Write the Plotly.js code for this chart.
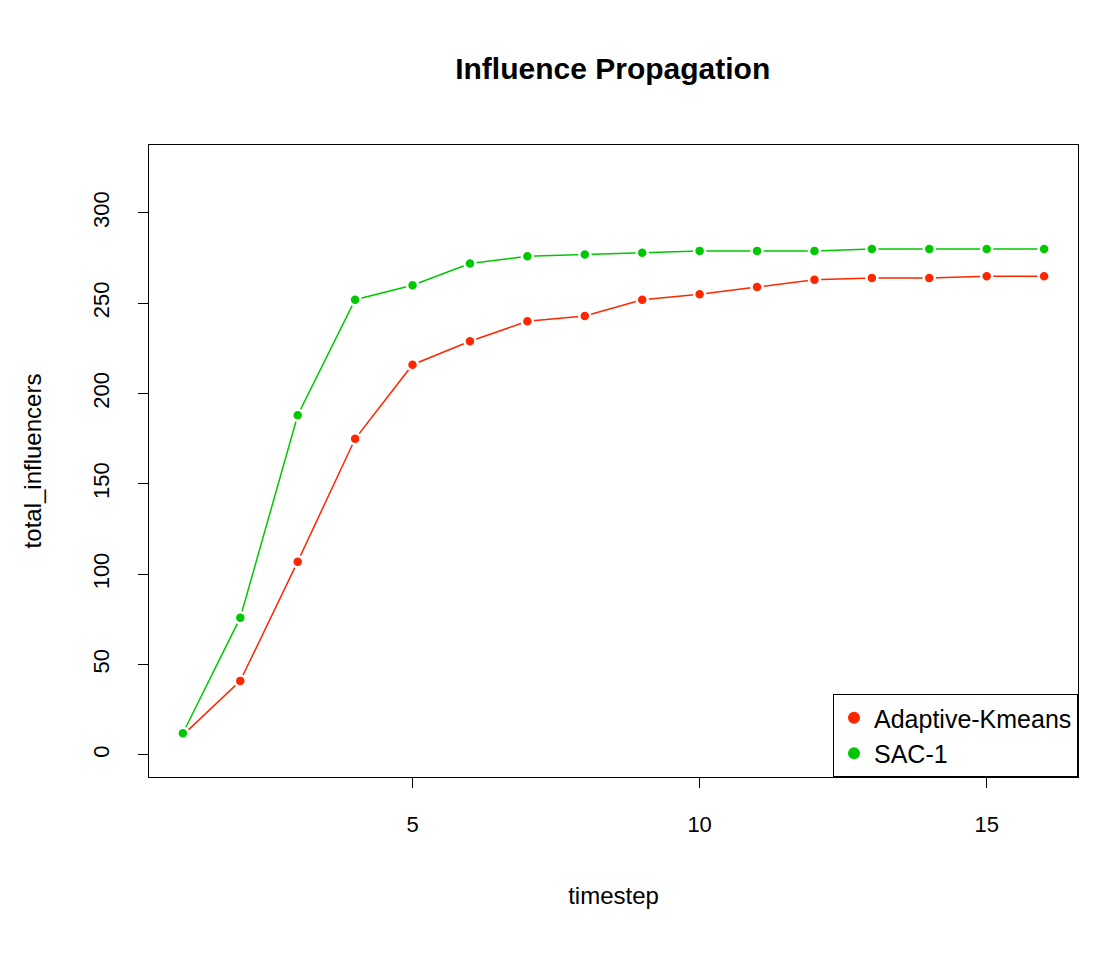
<!DOCTYPE html>
<html><head><script src="https://cdn.plot.ly/plotly-3.0.1.min.js"></script>
<style>body{margin:0}</style></head><body>
<div id="c" style="width:1104px;height:960px"></div>
<script>
const timestep=[1,2,3,4,5,6,7,8,9,10,11,12,13,14,15,16];
const adaptiveKmeans=[11,41,107,175,216,229,240,243,252,255,259,263,264,264,265,265];
const sac1=[12,76,188,252,260,272,276,277,278,279,279,279,280,280,280,280];
const font={family:"Liberation Sans, Arial, sans-serif",color:"#000"};
function tr(name,y,col){return {x:timestep,y:y,name:name,mode:"lines+markers",showlegend:false,
 line:{color:col,width:1.5},marker:{color:col,size:11,line:{color:"white",width:2.5}}};}
function lg(name,col){return {x:[null],y:[null],name:name,mode:"markers",marker:{color:col,size:12}};}
Plotly.newPlot("c",[tr("Adaptive-Kmeans",adaptiveKmeans,"#ff2600"),tr("SAC-1",sac1,"#00c800"),
 lg("Adaptive-Kmeans","#ff2600"),lg("SAC-1","#00c800")],{
 width:1104,height:960,paper_bgcolor:"white",plot_bgcolor:"white",font:Object.assign({size:22},font),
 margin:{l:149,r:26,t:145,b:183},
 title:{text:"<b>Influence Propagation</b>",font:Object.assign({size:30},font),x:0.555,xanchor:"center",y:0.929,yanchor:"middle"},
 xaxis:{range:[0.41,16.59],tickvals:[5,10,15],ticks:"outside",ticklen:10,tickcolor:"#000",showgrid:false,zeroline:false,ticklabelstandoff:18,
  showline:true,mirror:true,linecolor:"#000",linewidth:1,title:{text:"timestep",font:Object.assign({size:24},font),standoff:50}},
 yaxis:{range:[-12.2,337.6],tickvals:[0,50,100,150,200,250,300],ticks:"outside",ticklen:10,tickcolor:"#000",tickangle:-90,showgrid:false,zeroline:false,ticklabelstandoff:20,
  showline:true,mirror:true,linecolor:"#000",linewidth:1,title:{text:"total_influencers",font:Object.assign({size:24},font),standoff:40}},
 legend:{x:1,xanchor:"right",y:0,yanchor:"bottom",bordercolor:"#000",borderwidth:1,bgcolor:"white",itemwidth:30,
  font:Object.assign({size:25},font)},
 showlegend:true
},{displayModeBar:false});
</script></body></html>
